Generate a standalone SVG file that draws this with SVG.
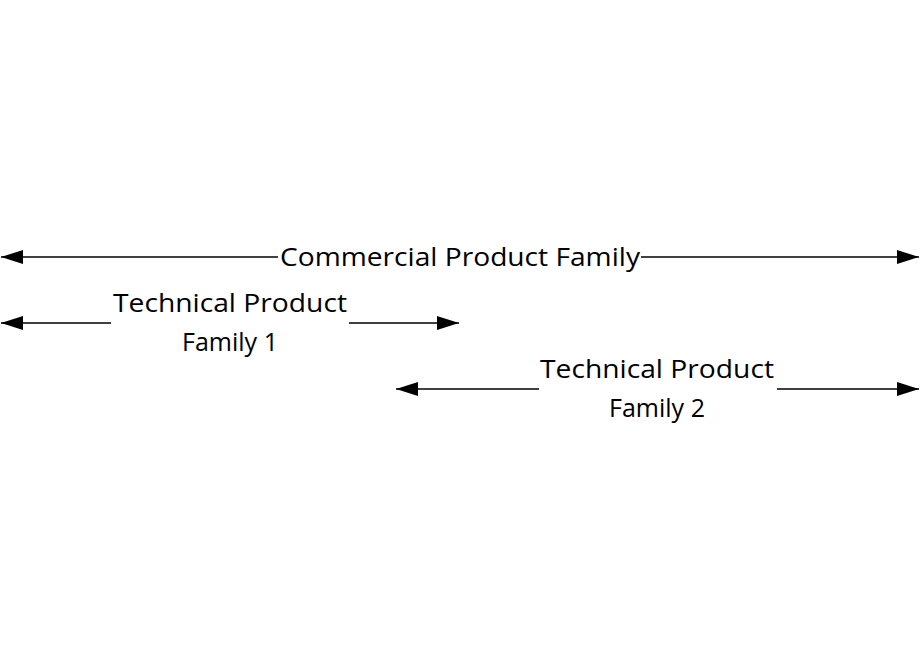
<svg xmlns="http://www.w3.org/2000/svg" width="920" height="660" viewBox="0 0 920 660">
<style>
.l{stroke:#000;stroke-width:1.5;fill:none}
.t{font-family:"Open Sans","Liberation Sans",sans-serif;font-size:25px;fill:#000;text-anchor:middle}
</style>
<defs>
<marker id="a" markerUnits="userSpaceOnUse" markerWidth="22" markerHeight="14" refX="22" refY="7" orient="auto-start-reverse"><path d="M0,0L22,7L0,14z" fill="#000"/></marker>
</defs>
<rect width="920" height="660" fill="#fff"/>
<g id="connectors">
<path class="l" d="M278,257H1" marker-end="url(#a)"/>
<path class="l" d="M641,257H919" marker-end="url(#a)"/>
<path class="l" d="M111,323H1" marker-end="url(#a)"/>
<path class="l" d="M349,323H459" marker-end="url(#a)"/>
<path class="l" d="M539,389H396" marker-end="url(#a)"/>
<path class="l" d="M777,389H919" marker-end="url(#a)"/>
</g>
<g id="commercial"><text class="t" x="460" y="266" textLength="360" lengthAdjust="spacingAndGlyphs">Commercial Product Family</text></g>
<g id="tech1"><text class="t" x="230" y="312" textLength="234" lengthAdjust="spacingAndGlyphs">Technical Product</text><text class="t" x="230" y="351">Family 1</text></g>
<g id="tech2"><text class="t" x="657" y="378" textLength="234" lengthAdjust="spacingAndGlyphs">Technical Product</text><text class="t" x="657" y="417">Family 2</text></g>
</svg>
